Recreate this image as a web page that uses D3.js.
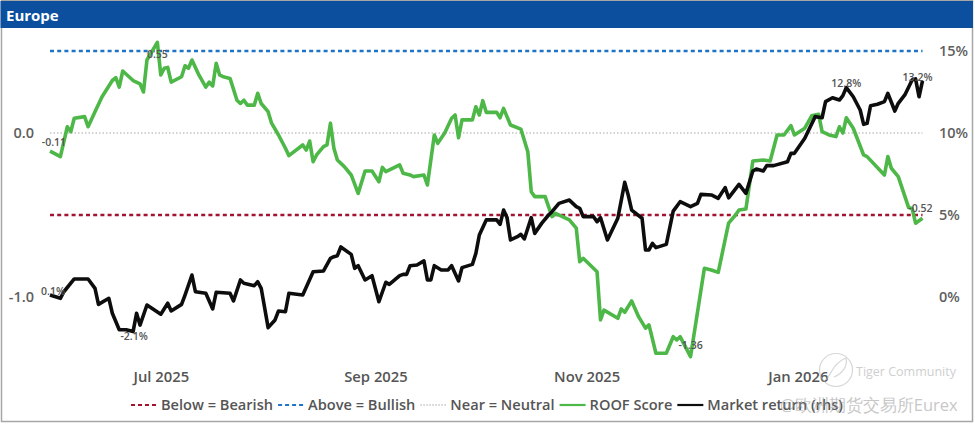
<!DOCTYPE html>
<html>
<head>
<meta charset="utf-8">
<script src="https://cdn.jsdelivr.net/npm/d3@7"></script>
<style>
  html, body { margin: 0; padding: 0; background: #fff; }
  svg { display: block; }
  text { font-family: "Open Sans", "Noto Sans", sans-serif; }
</style>
</head>
<body>
<svg id="chart" width="975" height="425"></svg>
<script>
// ---------------- DATA ----------------
const roofDates = [
  "2025-05-30","2025-06-02","2025-06-04","2025-06-05","2025-06-06","2025-06-09","2025-06-10","2025-06-12","2025-06-14",
  "2025-06-17","2025-06-18","2025-06-19","2025-06-20","2025-06-23","2025-06-25","2025-06-26","2025-06-27","2025-06-30",
  "2025-07-01","2025-07-02","2025-07-03","2025-07-04","2025-07-07","2025-07-08","2025-07-09","2025-07-10","2025-07-12",
  "2025-07-14","2025-07-15","2025-07-16","2025-07-17","2025-07-18","2025-07-19","2025-07-21","2025-07-23","2025-07-24",
  "2025-07-25","2025-07-26","2025-07-28","2025-07-29","2025-07-30","2025-08-01","2025-08-02","2025-08-04","2025-08-06",
  "2025-08-07","2025-08-11","2025-08-12","2025-08-13","2025-08-14","2025-08-15","2025-08-17","2025-08-18","2025-08-19",
  "2025-08-20","2025-08-21","2025-08-23","2025-08-25","2025-08-27","2025-08-29","2025-08-31","2025-09-02","2025-09-03",
  "2025-09-04","2025-09-08","2025-09-09","2025-09-11","2025-09-12","2025-09-15","2025-09-16","2025-09-18","2025-09-19",
  "2025-09-21","2025-09-23","2025-09-24","2025-09-25","2025-09-26","2025-09-29","2025-09-30","2025-10-01","2025-10-02",
  "2025-10-03","2025-10-06","2025-10-07","2025-10-08","2025-10-10","2025-10-13","2025-10-15","2025-10-16","2025-10-17",
  "2025-10-20","2025-10-22","2025-10-23","2025-10-27","2025-10-29","2025-10-30","2025-10-31","2025-11-04","2025-11-05",
  "2025-11-06","2025-11-10","2025-11-11","2025-11-12","2025-11-14","2025-11-16","2025-11-18","2025-11-19","2025-11-21",
  "2025-11-24","2025-11-26","2025-11-27","2025-11-28","2025-12-01","2025-12-05","2025-12-07","2025-12-09","2025-12-12",
  "2025-12-14","2025-12-15","2025-12-17","2025-12-19","2025-12-22","2025-12-24","2025-12-26","2025-12-28","2025-12-30",
  "2025-12-31","2026-01-03","2026-01-05","2026-01-07","2026-01-08","2026-01-10","2026-01-12","2026-01-13","2026-01-14",
  "2026-01-15","2026-01-17","2026-01-20","2026-01-21","2026-01-26","2026-01-27","2026-01-28","2026-01-30","2026-02-02",
  "2026-02-03","2026-02-04","2026-02-06"
];
const roofValues = [
  -0.11,-0.144,0.038,0.008,0.09,0.10,0.038,0.13,0.22,
  0.32,0.337,0.28,0.378,0.32,0.30,0.25,0.445,0.553,
  0.354,0.395,0.40,0.31,0.343,0.41,0.395,0.445,0.354,
  0.28,0.31,0.287,0.425,0.354,0.343,0.333,0.20,0.18,
  0.20,0.17,0.17,0.242,0.18,0.13,0.06,-0.012,-0.093,
  -0.138,-0.073,-0.104,-0.049,-0.175,-0.134,-0.083,-0.073,0.06,
  -0.093,-0.165,-0.205,-0.256,-0.368,-0.232,-0.232,-0.297,-0.21,
  -0.236,-0.195,-0.246,-0.256,-0.266,-0.256,-0.317,-0.012,-0.063,
  0.0,0.09,0.11,-0.029,0.08,0.08,0.16,0.11,0.197,
  0.126,0.126,0.093,0.15,0.049,0.024,-0.114,-0.358,-0.388,
  -0.388,-0.51,-0.49,-0.53,-0.58,-0.785,-0.764,-0.846,-1.14,
  -1.08,-1.13,-1.073,-1.093,-1.024,-1.12,-1.19,-1.17,-1.343,
  -1.343,-1.242,-1.262,-1.242,-1.364,-0.825,-0.835,-0.85,-0.55,
  -0.50,-0.47,-0.463,-0.171,-0.165,-0.171,-0.012,-0.012,0.045,
  -0.012,0.029,0.105,0.114,0.008,-0.012,-0.022,0.038,0.0,
  0.093,0.029,-0.134,-0.144,-0.256,-0.144,-0.215,-0.266,-0.455,
  -0.46,-0.55,-0.52
];

const retDates = [
  "2025-05-30","2025-06-02","2025-06-03","2025-06-06","2025-06-10","2025-06-12","2025-06-13","2025-06-16","2025-06-17",
  "2025-06-19","2025-06-21","2025-06-23","2025-06-24","2025-06-25","2025-06-27","2025-07-01","2025-07-03","2025-07-04",
  "2025-07-07","2025-07-08","2025-07-10","2025-07-11","2025-07-14","2025-07-16","2025-07-17","2025-07-21","2025-07-22",
  "2025-07-24","2025-07-25","2025-07-28","2025-07-29","2025-07-30","2025-08-01","2025-08-03","2025-08-04","2025-08-06",
  "2025-08-07","2025-08-11","2025-08-14","2025-08-17","2025-08-19","2025-08-20","2025-08-21","2025-08-22","2025-08-25",
  "2025-08-26","2025-08-27","2025-08-29","2025-08-31","2025-09-02","2025-09-04","2025-09-05","2025-09-08","2025-09-09",
  "2025-09-10","2025-09-11","2025-09-13","2025-09-15","2025-09-16","2025-09-17","2025-09-18","2025-09-20","2025-09-22",
  "2025-09-23","2025-09-25","2025-09-26","2025-09-29","2025-09-30","2025-10-01","2025-10-03","2025-10-06","2025-10-07",
  "2025-10-08","2025-10-09","2025-10-10","2025-10-12","2025-10-13","2025-10-14","2025-10-16","2025-10-17","2025-10-19",
  "2025-10-21","2025-10-22","2025-10-24","2025-10-27","2025-10-29","2025-10-30","2025-10-31","2025-11-03","2025-11-04",
  "2025-11-05","2025-11-07","2025-11-10","2025-11-12","2025-11-13","2025-11-14","2025-11-17","2025-11-18","2025-11-19",
  "2025-11-20","2025-11-21","2025-11-24","2025-11-26","2025-11-28","2025-12-01","2025-12-03","2025-12-04","2025-12-07",
  "2025-12-09","2025-12-11","2025-12-12","2025-12-15","2025-12-17","2025-12-19","2025-12-20","2025-12-22","2025-12-23",
  "2025-12-25","2025-12-29","2025-12-30","2025-12-31","2026-01-03","2026-01-06","2026-01-08","2026-01-09","2026-01-11",
  "2026-01-13","2026-01-14","2026-01-15","2026-01-17","2026-01-19","2026-01-20","2026-01-21","2026-01-22","2026-01-24",
  "2026-01-26","2026-01-27","2026-01-29","2026-01-30","2026-02-01","2026-02-03","2026-02-04","2026-02-05","2026-02-06"
];
const retValues = [
  0.12,-0.08,0.32,1.1,1.1,0.53,-0.45,-0.08,-0.99,
  -2.0,-2.0,-2.11,-0.99,-1.71,-0.49,-1.05,-0.38,-0.85,
  -0.45,0.12,1.34,0.32,0.23,-0.73,0.29,0.23,-0.24,
  1.04,0.84,0.69,0.93,0.53,-1.87,-1.40,-0.85,-0.90,
  0.23,0.12,1.54,1.59,2.36,2.46,2.52,3.05,2.60,
  1.75,1.91,1.04,1.30,-0.29,0.90,0.77,1.30,1.38,
  1.38,1.91,1.95,2.20,1.04,1.04,1.91,1.65,1.65,
  1.91,0.98,1.79,1.99,2.66,3.78,4.70,4.70,4.43,
  5.30,4.84,3.48,3.68,3.82,3.54,4.84,3.88,4.49,
  5.0,5.20,5.71,5.91,5.51,5.41,4.90,4.90,4.59,
  4.84,3.48,4.80,6.99,6.22,5.30,4.80,2.87,2.87,
  3.27,3.01,3.21,5.24,5.81,5.51,5.71,6.26,6.22,
  6.02,6.67,6.05,6.87,6.32,7.68,7.80,7.68,8.01,
  8.01,8.25,8.76,8.76,9.68,11.0,10.93,11.91,12.15,
  12.01,12.28,12.77,12.21,11.40,10.53,10.59,11.66,11.75,
  11.91,12.42,11.34,11.81,12.36,13.23,13.3,12.21,13.18
];

const leftTicks = [-1.0, 0.0];
const rightTicks = [0, 5, 10, 15];
const xTickDates = ["2025-07-01","2025-09-01","2025-11-01","2026-01-01"];
const bullishLevel = 0.5;
const neutralLevel = 0.0;
const bearishLevel = -0.5;
const roofLabelDates = ["2025-05-30","2025-06-30","2025-12-01","2026-02-06"];
const retLabelDates = ["2025-05-30","2025-06-23","2026-01-15","2026-02-06"];
const legendLabels = ["Below = Bearish","Above = Bullish","Near = Neutral","ROOF Score","Market return (rhs)"];
const title = "Europe";

// ---------------- STYLE / LAYOUT ----------------
const C = {
  header: "#0b4f9e", green: "#4db848", black: "#0d0d0d",
  bull: "#1f74c7", bear: "#a3122f", neutral: "#c4c4c4",
  axisText: "#5f5f5f", labelText: "#555555", frame: "#a6a6a6"
};
const parse = d3.utcParse("%Y-%m-%d");
const svg = d3.select("#chart");

// frame + header
svg.append("rect").attr("x", 1.5).attr("y", 0.5).attr("width", 971).attr("height", 421)
  .attr("fill", "#fff").attr("stroke", C.frame).attr("stroke-width", 1.5);
svg.append("rect").attr("x", 0.5).attr("y", 1).attr("width", 972.5).attr("height", 27).attr("fill", C.header);
svg.append("text").attr("x", 6).attr("y", 20.5).attr("fill", "#fff")
  .attr("font-size", 15).attr("font-weight", 700).text(title);

// scales
const roof = roofDates.map((d, i) => ({ date: parse(d), v: roofValues[i] }));
const ret = retDates.map((d, i) => ({ date: parse(d), v: retValues[i] }));
const x = d3.scaleUtc()
  .domain([parse("2025-05-30"), parse("2026-02-06")])
  .range([50, 922.5]);
const yL = d3.scaleLinear().domain([-1.5, 0.6]).range([379, 34.6]);
const yR = d3.scaleLinear().domain([-5, 16]).range([379, 34.6]);

// reference lines
const [x0, x1] = x.range();
function hline(val, color, dash, width) {
  svg.append("line").attr("x1", x0).attr("x2", x1)
    .attr("y1", yL(val)).attr("y2", yL(val))
    .attr("stroke", color).attr("stroke-width", width)
    .attr("stroke-dasharray", dash);
}
hline(neutralLevel, C.neutral, "1.5,2", 1.5);
hline(bullishLevel, C.bull, "4,3.2", 2.5);
hline(bearishLevel, C.bear, "4,3.2", 2.5);

// axes
const axL = svg.append("g").attr("transform", "translate(34,0)")
  .call(d3.axisLeft(yL).tickValues(leftTicks).tickSize(0).tickPadding(0).tickFormat(d => d.toFixed(1)));
const axR = svg.append("g").attr("transform", "translate(939,0)")
  .call(d3.axisRight(yR).tickValues(rightTicks).tickSize(0).tickPadding(0).tickFormat(d => d + "%"));
const axX = svg.append("g").attr("transform", "translate(0,371)")
  .call(d3.axisBottom(x).tickValues(xTickDates.map(parse)).tickSize(0).tickPadding(0).tickFormat(d3.utcFormat("%b %Y")));
[axL, axR, axX].forEach(g => {
  g.select(".domain").remove();
  g.selectAll("text").attr("font-family", "'Open Sans', sans-serif")
    .attr("font-size", 14.5).attr("font-weight", 600).attr("fill", C.axisText);
});
axX.selectAll("text").attr("font-size", 14.8).attr("fill", "#555");

// series lines
const lineL = d3.line().x(d => x(d.date)).y(d => yL(d.v));
const lineR = d3.line().x(d => x(d.date)).y(d => yR(d.v));
svg.append("path").datum(roof).attr("d", lineL).attr("fill", "none")
  .attr("stroke", C.green).attr("stroke-width", 3.6).attr("stroke-linejoin", "round");
svg.append("path").datum(ret).attr("d", lineR).attr("fill", "none")
  .attr("stroke", C.black).attr("stroke-width", 3.6).attr("stroke-linejoin", "round");

// data labels
const roofOffsets = [[4, -9], [0, 12], [0, -11], [-2, -10]];
const retOffsets = [[3, -4], [1, 5], [0, -4], [-5, -4]];
function addLabels(series, dates, offsets, y, fmt) {
  dates.forEach((ds, i) => {
    const p = series.find(d => +d.date === +parse(ds));
    svg.append("text")
      .attr("x", x(p.date) + offsets[i][0])
      .attr("y", y(p.v) + offsets[i][1])
      .attr("dy", "0.35em")
      .attr("text-anchor", "middle")
      .attr("font-size", 10.5).attr("font-weight", 600)
      .attr("fill", C.labelText)
      .text(fmt(p.v));
  });
}
addLabels(roof, roofLabelDates, roofOffsets, yL, v => v.toFixed(2));
addLabels(ret, retLabelDates, retOffsets, yR, v => v.toFixed(1) + "%");

// legend
const legendStyles = [
  { color: C.bear, dash: "4,3", w: 2 },
  { color: C.bull, dash: "4,3", w: 2 },
  { color: C.neutral, dash: "1.5,1.5", w: 1.5 },
  { color: C.green, dash: null, w: 2.2 },
  { color: C.black, dash: null, w: 2.2 }
];
const lg = svg.append("g");
let lx = 131;
const ly = 405;
legendLabels.forEach((lab, i) => {
  const s = legendStyles[i];
  lg.append("line").attr("x1", lx).attr("x2", lx + 26).attr("y1", ly).attr("y2", ly)
    .attr("stroke", s.color).attr("stroke-width", s.w).attr("stroke-dasharray", s.dash);
  const t = lg.append("text").attr("x", lx + 30).attr("y", ly).attr("dy", "0.35em")
    .attr("font-size", 14.6).attr("font-weight", 600).attr("fill", "#555").text(lab);
  lx = lx + 30 + t.node().getComputedTextLength() + 5;
});

// watermark (semi-transparent overlay, as in the reference)
const wm = svg.append("g").attr("opacity", 0.55);
wm.append("circle").attr("cx", 836).attr("cy", 370).attr("r", 16.5)
  .attr("fill", "none").attr("stroke", "#b8b8b8").attr("stroke-width", 1.2);
wm.append("path").attr("d", "M826,380 C832,372 835,362 846,358 C848,366 842,374 834,377")
  .attr("fill", "none").attr("stroke", "#b8b8b8").attr("stroke-width", 1.2);
wm.append("text").attr("x", 856).attr("y", 372).attr("dy", "0.35em")
  .attr("font-size", 12.5).attr("fill", "#a8a8a8").text("Tiger Community");
wm.append("text").attr("x", 780).attr("y", 405).attr("dy", "0.35em")
  .attr("font-family", "'Noto Sans CJK SC', sans-serif")
  .attr("font-size", 16.5).attr("fill", "#9a9a9a").text("@欧洲期货交易所Eurex");
</script>
</body>
</html>
